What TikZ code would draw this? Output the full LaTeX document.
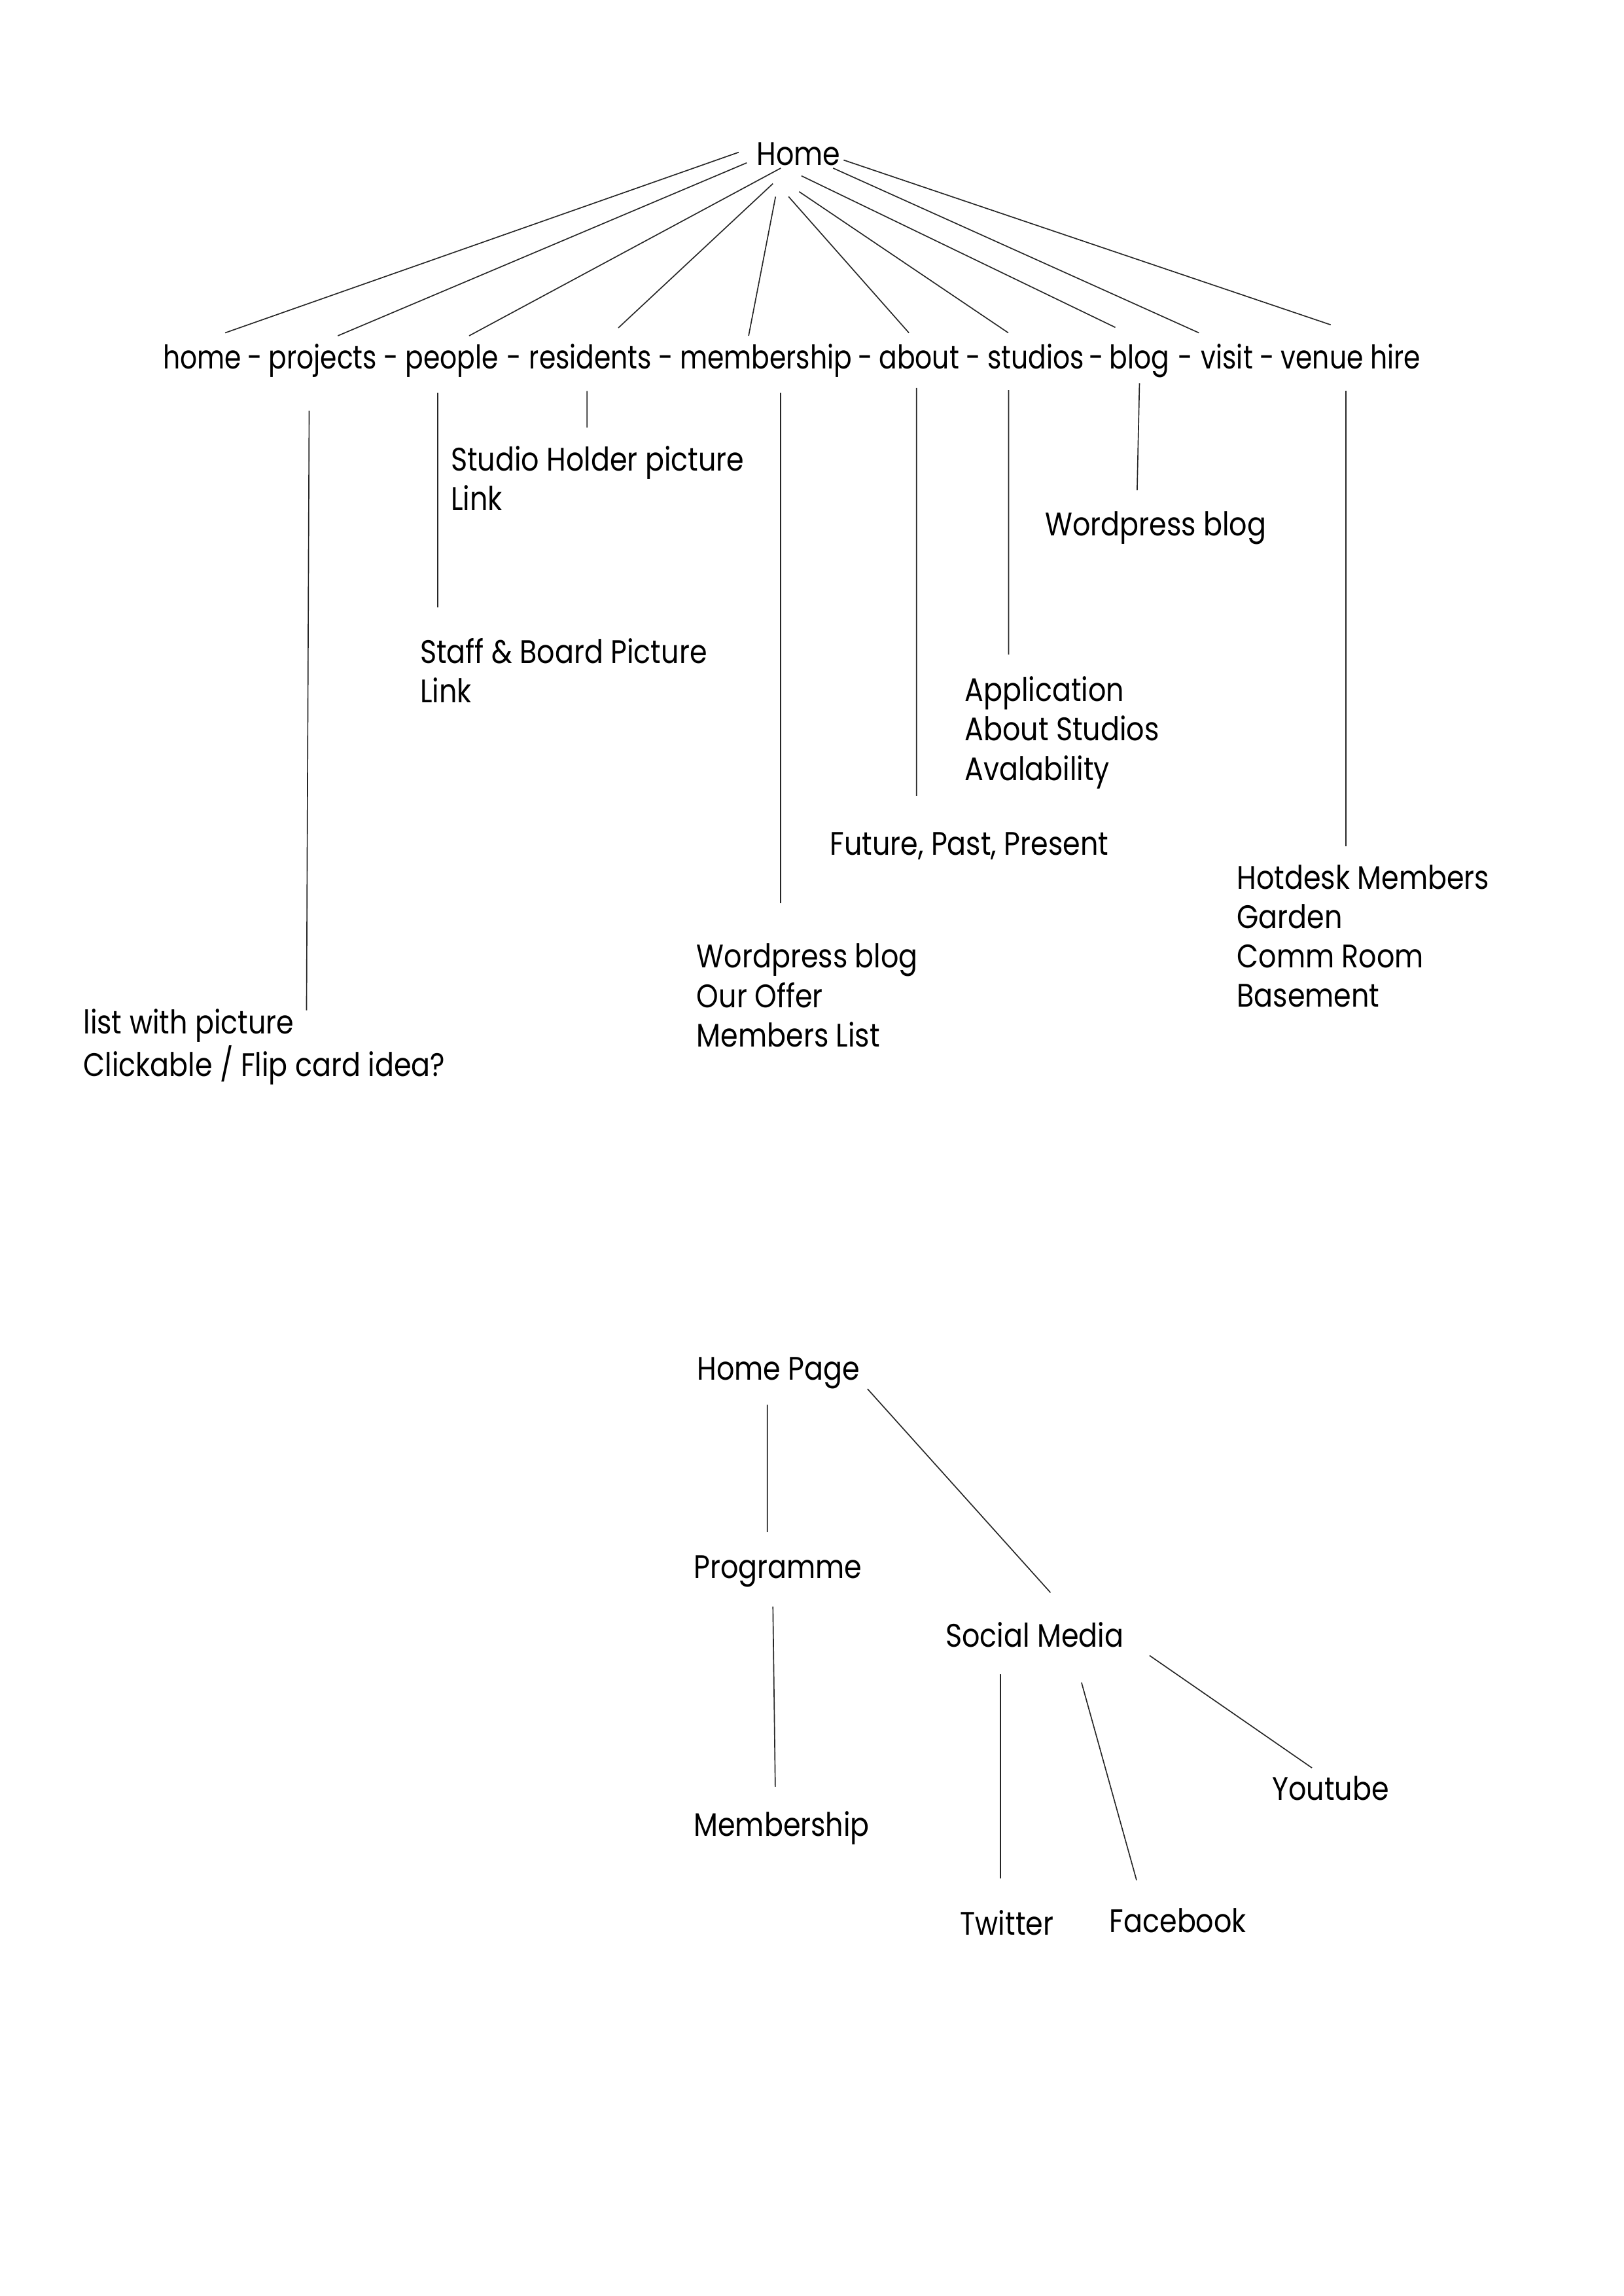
\documentclass[tikz,border=0pt]{standalone}
\usepackage{fontspec}
\setmainfont{Poppins}[FakeStretch=0.86]
\newfontfamily\rowfont{Poppins}[FakeStretch=0.82]
\usetikzlibrary{calc}
\newcommand\txtlines[1]{\begin{tabular}[t]{@{}l@{}}#1\end{tabular}}
\tikzset{
  lbl/.style={inner sep=0pt, outer sep=0pt, anchor=base west, font=\fontsize{12}{14.5}\selectfont},
  menu/.style={inner sep=0pt, outer sep=0pt, anchor=base west, font=\rowfont\fontsize{12}{14.5}\selectfont},
  dsh/.style={inner sep=0pt, outer sep=0pt, anchor=base, font=\rowfont\fontsize{12}{14.5}\selectfont},
  link/.style={line width=0.4pt, black!85}
}
\begin{document}
\begin{tikzpicture}[x=0.018936cm, y=-0.018936cm]
\useasboundingbox (0,0) rectangle (1109,1568);
% ---------- top tree ----------
\node[lbl] (Home) at (516.9,112.8) {Home};
\node[menu] (w1) at (111.5,252) {home};
\node[menu] (w2) at (183.5,252) {projects};
\node[menu] (w3) at (277,252) {people};
\node[menu] (w4) at (361.5,252) {residents};
\node[menu] (w5) at (464.5,252) {membership};
\node[menu] (w6) at (600.5,252) {about};
\node[menu] (w7) at (674.5,252) {studios};
\node[menu] (w8) at (758,252) {blog};
\node[menu] (w9) at (820.5,252) {visit};
\node[menu] (w10) at (875,252) {venue hire};
\node[dsh] (d1) at ($(w1.base east)!0.5!(w2.base west)$) {-};
\node[dsh] (d2) at ($(w2.base east)!0.5!(w3.base west)$) {-};
\node[dsh] (d3) at ($(w3.base east)!0.5!(w4.base west)$) {-};
\node[dsh] (d4) at ($(w4.base east)!0.5!(w5.base west)$) {-};
\node[dsh] (d5) at ($(w5.base east)!0.5!(w6.base west)$) {-};
\node[dsh] (d6) at ($(w6.base east)!0.5!(w7.base west)$) {-};
\node[dsh] (d7) at ($(w7.base east)!0.5!(w8.base west)$) {-};
\node[dsh] (d8) at ($(w8.base east)!0.5!(w9.base west)$) {-};
\node[dsh] (d9) at ($(w9.base east)!0.5!(w10.base west)$) {-};

\node[lbl] (studioholder) at (308,321.5) {\txtlines{Studio Holder picture\\Link}};
\node[lbl] (staff) at (287,453) {\txtlines{Staff \& Board Picture\\Link}};
\node[lbl] (wpblog) at (714,366) {Wordpress blog};
\node[lbl] (application) at (659,479) {\txtlines{Application\\About Studios\\Avalability}};
\node[lbl] (future) at (567,584) {Future, Past, Present};
\node[lbl] (hotdesk) at (845,607) {\txtlines{Hotdesk Members\\Garden\\Comm Room\\Basement}};
\node[lbl] (memlist) at (476,661) {\txtlines{Wordpress blog\\Our Offer\\Members List}};
\node[lbl] (listpic) at (57,706) {\txtlines{list with picture\\Clickable / Flip card idea?}};

% Home fan
\draw[link] ([shift={(-12.3,-8.8)}]Home.base west) -- ([shift={(42.3,-24.7)}]w1.base west);
\draw[link] ([shift={(-6.8,-1.6)}]Home.base west) -- ([shift={(47.3,-22.7)}]w2.base west);
\draw[link] ([shift={(16.5,2.0)}]Home.base west) -- ([shift={(43.5,-22.7)}]w3.base west);
\draw[link] ([shift={(11.1,12.6)}]Home.base west) -- ([shift={(60.9,-28.1)}]w4.base west);
\draw[link] ([shift={(12.9,21.5)}]Home.base west) -- ([shift={(46.9,-22.7)}]w5.base west);
\draw[link] ([shift={(21.8,21.5)}]Home.base west) -- ([shift={(20.4,-24.7)}]w6.base west);
\draw[link] ([shift={(29.0,18.1)}]Home.base west) -- ([shift={(14.3,-24.7)}]w7.base west);
\draw[link] ([shift={(30.6,7.3)}]Home.base west) -- ([shift={(3.9,-28.4)}]w8.base west);
\draw[link] ([shift={(52.2,2.0)}]Home.base west) -- ([shift={(-1.5,-24.7)}]w9.base west);
\draw[link] ([shift={(59.4,-3.5)}]Home.base west) -- ([shift={(34.0,-30.2)}]w10.base west);

% verticals under the menu
\draw[link] ([shift={(27.7,28.5)}]w2.base west) -- ([shift={(152.4,-16)}]listpic.base west);
\draw[link] ([shift={(21.9,16.3)}]w3.base west) -- ([shift={(11.9,-38)}]staff.base west);
\draw[link] ([shift={(39.5,15)}]w4.base west) -- ([shift={(93,-29.5)}]studioholder.base west);
\draw[link] ([shift={(68.7,16.3)}]w5.base west) -- ([shift={(57.2,-44)}]memlist.base west);
\draw[link] ([shift={(25.6,13)}]w6.base west) -- ([shift={(59.1,-40.5)}]future.base west);
\draw[link] ([shift={(14.5,14.5)}]w7.base west) -- ([shift={(30,-32)}]application.base west);
\draw[link] ([shift={(20.4,9.6)}]w8.base west) -- ([shift={(62.8,-31.2)}]wpblog.base west);
\draw[link] ([shift={(44.4,14.8)}]w10.base west) -- ([shift={(74.4,-29)}]hotdesk.base west);

% ---------- bottom tree ----------
\node[lbl] (homepage) at (476.3,942.5) {Home Page};
\node[lbl] (programme) at (474,1078) {Programme};
\node[lbl] (social) at (646,1124.6) {Social Media};
\node[lbl] (youtube) at (869,1229.2) {Youtube};
\node[lbl] (membership) at (474,1253.8) {Membership};
\node[lbl] (twitter) at (656,1321.5) {Twitter};
\node[lbl] (facebook) at (758,1319.6) {Facebook};

\draw[link] ([shift={(47.9,16.9)}]homepage.base west) -- ([shift={(50.2,-31.7)}]programme.base west);
\draw[link] ([shift={(54,19.2)}]programme.base west) -- ([shift={(55.6,-33.6)}]membership.base west);
\draw[link] ([shift={(116.3,6)}]homepage.base west) -- ([shift={(71.6,-37)}]social.base west);
\draw[link] ([shift={(37.3,18.9)}]social.base west) -- ([shift={(27.3,-38.9)}]twitter.base west);
\draw[link] ([shift={(92.8,24.4)}]social.base west) -- ([shift={(18.4,-35.6)}]facebook.base west);
\draw[link] ([shift={(139.3,6)}]social.base west) -- ([shift={(27.2,-21.9)}]youtube.base west);
\end{tikzpicture}
\end{document}
